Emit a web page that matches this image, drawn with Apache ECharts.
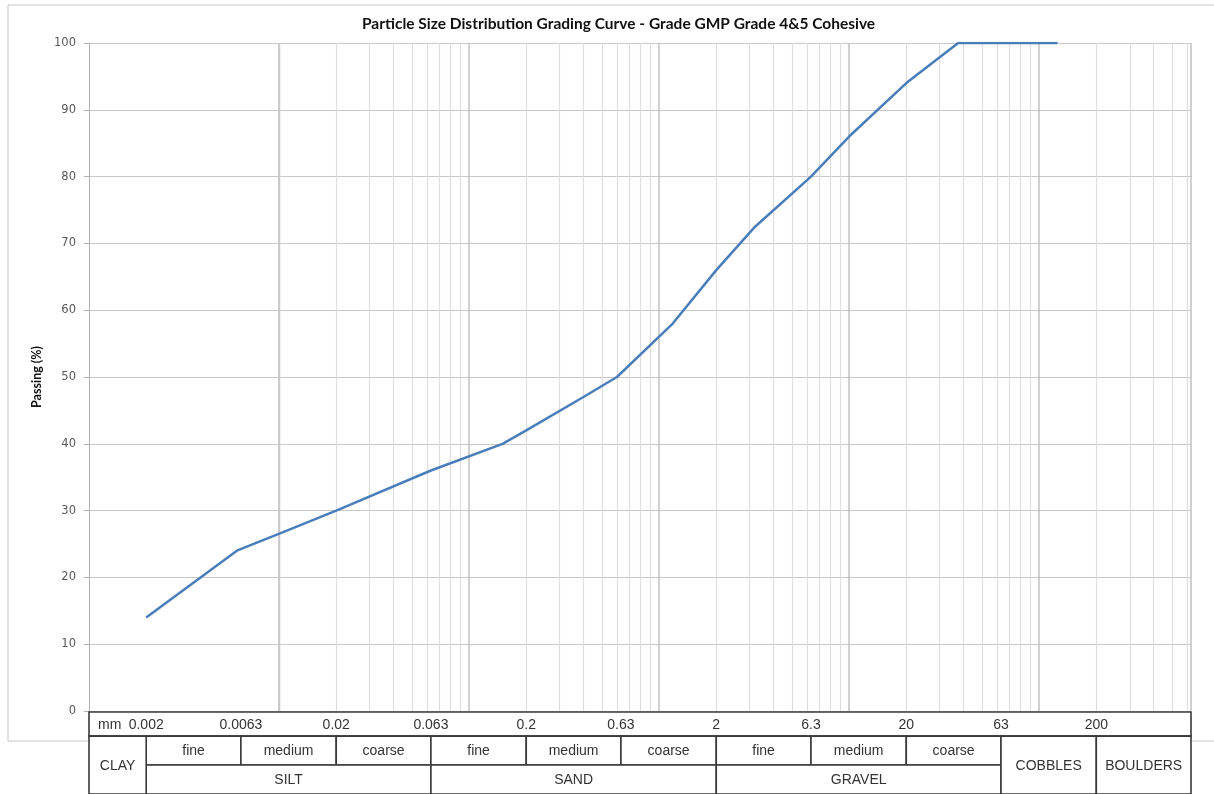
<!DOCTYPE html>
<html>
<head>
<meta charset="utf-8">
<script src="https://cdn.jsdelivr.net/npm/echarts@6/dist/echarts.min.js"></script>
<style>
html,body{margin:0;padding:0;background:#fff;}
#chart{width:1214px;height:794px;}
</style>
</head>
<body>
<div id="chart"></div>
<script>
// ---- Data ----
const sizes   = [0.002, 0.006, 0.011, 0.02, 0.063, 0.15, 0.2, 0.4, 0.6, 1.18, 2, 3.2, 6.3, 10, 20, 37.5, 125];
const passing = [14,    24,    27,    30,   36,    40,   42,  47,  50,  58,   66, 72.5, 80, 86, 94, 100, 100];

const xMin = 0.001;
const xMax = 630;
const yTicks = [0, 10, 20, 30, 40, 50, 60, 70, 80, 90, 100];

const decades = [0.001, 0.01, 0.1, 1, 10, 100];
const minorMultiples = [2, 3, 4, 5, 6, 7, 8, 9];

const boundaryValues = [0.002, 0.0063, 0.02, 0.063, 0.2, 0.63, 2, 6.3, 20, 63, 200];
const boundaryLabels = ['0.002', '0.0063', '0.02', '0.063', '0.2', '0.63', '2', '6.3', '20', '63', '200'];

const subBandStarts = [0.002, 0.0063, 0.02, 0.063, 0.2, 0.63, 2, 6.3, 20];
const subBandEnds   = [0.0063, 0.02, 0.063, 0.2, 0.63, 2, 6.3, 20, 63];
const subBandNames  = ['fine', 'medium', 'coarse', 'fine', 'medium', 'coarse', 'fine', 'medium', 'coarse'];

const mainBandStarts = [0.002, 0.063, 2];
const mainBandEnds   = [0.063, 2, 63];
const mainBandNames  = ['SILT', 'SAND', 'GRAVEL'];

const fullBandStarts = [xMin, 63, 200];
const fullBandEnds   = [0.002, 200, xMax];
const fullBandNames  = ['CLAY', 'COBBLES', 'BOULDERS'];

// table rows in row-units: header row, sub-class row, class row
const rowEdges = [0, 1, 2.2, 3.4];

// ---- Build helper structures ----
const lineData = sizes.map((s, i) => [s, passing[i]]);

const minorLines = [];
decades.forEach(d => minorMultiples.forEach(m => {
  const v = d * m;
  if (v > xMin && v < xMax) minorLines.push({ xAxis: v });
}));
const majorLines = decades.filter(d => d > xMin).map(d => ({ xAxis: d }));

// table cells: [x0, x1, row0, row1]
const cells = [];
const cellNames = [];
cells.push([xMin, xMax, rowEdges[0], rowEdges[1]]); cellNames.push('');
subBandStarts.forEach((s, i) => { cells.push([s, subBandEnds[i], rowEdges[1], rowEdges[2]]); cellNames.push(subBandNames[i]); });
mainBandStarts.forEach((s, i) => { cells.push([s, mainBandEnds[i], rowEdges[2], rowEdges[3]]); cellNames.push(mainBandNames[i]); });
fullBandStarts.forEach((s, i) => { cells.push([s, fullBandEnds[i], rowEdges[1], rowEdges[3]]); cellNames.push(fullBandNames[i]); });

const headerData = boundaryValues.map(v => [v, (rowEdges[0] + rowEdges[1]) / 2]);

const tableFont = '14px "Liberation Sans", Arial, sans-serif';
const tableColor = '#333333';

const chart = echarts.init(document.getElementById('chart'), null, { renderer: 'canvas' });

chart.setOption({
  animation: false,
  backgroundColor: '#ffffff',
  title: {
    text: 'Particle Size Distribution Grading Curve - Grade GMP Grade 4&5 Cohesive',
    left: 357,
    top: 11,
    textStyle: { fontFamily: 'Lato', fontWeight: 'bold', fontSize: 15.5, color: '#111111' }
  },
  graphic: [{
    type: 'rect',
    z: -10,
    shape: { x: 8, y: 5, width: 1400, height: 736 },
    style: { fill: 'none', stroke: '#c4c4c4', lineWidth: 1 }
  }],
  grid: [
    { left: 89, right: 23, top: 43, bottom: 83, outerBoundsMode: 'none', containLabel: false },
    { left: 89, right: 23, top: 712, height: 82, outerBoundsMode: 'none', containLabel: false }
  ],
  xAxis: [{
    type: 'log',
    gridIndex: 0,
    min: xMin,
    max: xMax,
    axisLine: { show: false },
    axisTick: { show: false },
    axisLabel: { show: false },
    splitLine: { show: false }
  }, {
    type: 'log',
    gridIndex: 1,
    min: xMin,
    max: xMax,
    show: false
  }],
  yAxis: [{
    type: 'value',
    gridIndex: 0,
    min: 0,
    max: 100,
    interval: 10,
    name: 'Passing (%)',
    nameLocation: 'middle',
    nameGap: 45,
    nameRotate: 90,
    nameTextStyle: { fontFamily: 'Lato', fontWeight: 'bold', fontSize: 12.5, color: '#111111' },
    axisLine: { show: true, lineStyle: { color: '#b0b0b0', width: 1 } },
    axisTick: { show: true, length: 5, lineStyle: { color: '#b0b0b0' } },
    axisLabel: {
      fontFamily: '"DejaVu Sans"', fontSize: 11.5, color: '#595959', margin: 13,
      formatter: v => yTicks.indexOf(v) >= 0 ? String(v) : ''
    },
    splitLine: { show: true, lineStyle: { color: '#c8c8c8', width: 1 } }
  }, {
    type: 'value',
    gridIndex: 1,
    min: rowEdges[0],
    max: rowEdges[3],
    inverse: true,
    show: false
  }],
  series: [
    {
      // minor vertical gridlines
      type: 'line',
      xAxisIndex: 0, yAxisIndex: 0,
      data: [],
      silent: true,
      markLine: {
        silent: true,
        symbol: 'none',
        label: { show: false },
        animation: false,
        lineStyle: { color: '#dedede', width: 1.2, type: 'solid' },
        data: minorLines
      },
      z: 1
    },
    {
      // decade gridlines and plot right border
      type: 'line',
      xAxisIndex: 0, yAxisIndex: 0,
      data: [],
      silent: true,
      markLine: {
        silent: true,
        symbol: 'none',
        label: { show: false },
        animation: false,
        lineStyle: { color: '#c0c0c0', width: 1.5, type: 'solid' },
        data: majorLines.concat([{ xAxis: xMax }])
      },
      z: 1
    },
    {
      name: 'Passing',
      type: 'line',
      xAxisIndex: 0, yAxisIndex: 0,
      data: lineData,
      showSymbol: false,
      symbol: 'none',
      smooth: false,
      lineStyle: { color: '#4a7ebb', width: 2.5 },
      z: 5
    },
    {
      // table cells
      type: 'custom',
      xAxisIndex: 1, yAxisIndex: 1,
      data: cells,
      encode: { x: [0, 1], y: [2, 3] },
      silent: true,
      clip: false,
      z: 10,
      renderItem: function (params, api) {
        const p0 = api.coord([api.value(0), api.value(2)]);
        const p1 = api.coord([api.value(1), api.value(3)]);
        const name = cellNames[params.dataIndex];
        return {
          type: 'group',
          children: [{
            type: 'rect',
            shape: { x: p0[0], y: p0[1], width: p1[0] - p0[0], height: p1[1] - p0[1] },
            style: { fill: '#ffffff', stroke: '#3a3a3a', lineWidth: 1.6 }
          }, {
            type: 'text',
            style: {
              text: name,
              x: (p0[0] + p1[0]) / 2,
              y: (p0[1] + p1[1]) / 2 + 1,
              align: 'center',
              verticalAlign: 'middle',
              font: tableFont,
              fill: tableColor
            }
          }]
        };
      }
    },
    {
      // header row boundary labels
      type: 'custom',
      xAxisIndex: 1, yAxisIndex: 1,
      data: headerData,
      encode: { x: 0, y: 1 },
      silent: true,
      clip: false,
      z: 11,
      renderItem: function (params, api) {
        const p = api.coord([api.value(0), api.value(1)]);
        const children = [{
          type: 'text',
          style: {
            text: boundaryLabels[params.dataIndex],
            x: p[0], y: p[1] + 1,
            align: 'center', verticalAlign: 'middle',
            font: tableFont, fill: tableColor
          }
        }];
        if (params.dataIndex === 0) {
          const pl = api.coord([xMin, api.value(1)]);
          children.push({
            type: 'text',
            style: {
              text: 'mm',
              x: pl[0] + 9, y: p[1] + 1,
              align: 'left', verticalAlign: 'middle',
              font: tableFont, fill: tableColor
            }
          });
        }
        return { type: 'group', children: children };
      }
    }
  ]
});
</script>
</body>
</html>
